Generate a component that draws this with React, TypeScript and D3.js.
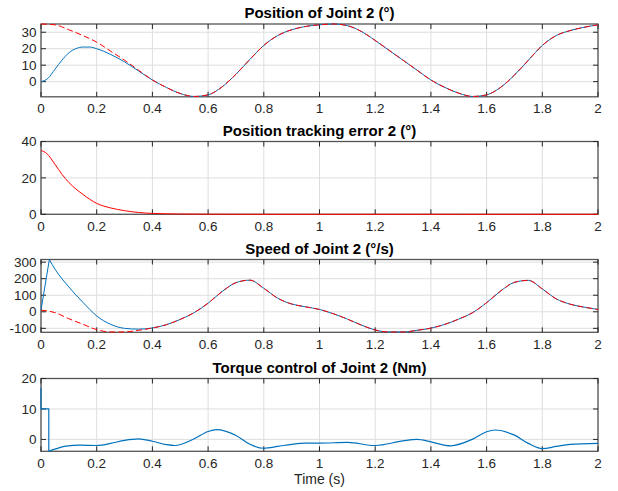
import React from "react";
import * as d3 from "d3";

// ---------- DATA ----------
const timeGrid = [0, 0.05, 0.1, 0.15, 0.2, 0.25, 0.3, 0.35, 0.4, 0.45, 0.5, 0.55, 0.6, 0.65, 0.7, 0.75, 0.8, 0.85, 0.9, 0.95, 1.0,
  1.05, 1.1, 1.15, 1.2, 1.25, 1.3, 1.35, 1.4, 1.45, 1.5, 1.55, 1.6, 1.65, 1.7, 1.75, 1.8, 1.85, 1.9, 1.95, 2.0];

const refPosition = [35, 34.5, 31.5, 28, 24, 18.5, 13, 7, 1, -3.5, -7.2, -9, -8, -3.2, 4.5, 13.5, 22, 28, 31.5, 33.5, 34.5,
  35, 34, 30.5, 25, 19, 13, 7, 1, -3.5, -7, -9, -8, -3.5, 4, 13, 22, 28, 31, 33, 34.5];

const actPosStartTimes = [0, 0.025, 0.05, 0.075, 0.1, 0.125, 0.15, 0.175, 0.2, 0.25, 0.3, 0.35, 0.4, 0.45];
const actPosStartValues = [0, 2, 7.5, 13, 17.5, 20, 21, 21, 20, 16.5, 12, 6.5, 1, -3.5];

const errorTimes = [0, 0.01, 0.02, 0.05, 0.075, 0.1, 0.15, 0.2, 0.25, 0.3, 0.35, 0.4, 0.5, 0.6, 0.8, 1.0, 1.5, 2.0];
const errorValues = [35, 34.5, 33.5, 27.5, 22, 17.5, 11, 6, 3.5, 2, 1, 0.5, 0.15, 0.05, 0, 0, 0, 0];

const refSpeed = [10, -5, -42, -75, -108, -122, -122, -112, -98, -78, -46, -5, 52, 122, 176, 191, 142, 82, 47, 30, 14,
  -12, -44, -80, -110, -122, -122, -112, -99, -76, -44, -5, 55, 125, 178, 190, 138, 78, 46, 28, 14];

const actSpeedRiseTimes = [0, 0.03];
const actSpeedRiseValues = [10, 316];
const actSpeedStartTimes = [0.03, 0.05, 0.075, 0.1, 0.125, 0.15, 0.175, 0.2, 0.25, 0.3, 0.35, 0.4];
const actSpeedStartValues = [316, 258, 200, 150, 102, 58, 14, -25, -76, -100, -105, -98];

const torqueStepTimes = [0, 0, 0.028, 0.028];
const torqueStepValues = [17, 10, 10, -3.9];
const torqueTimes = [0.028, 0.05, 0.09, 0.14, 0.2, 0.25, 0.3, 0.35, 0.4, 0.45, 0.48, 0.55, 0.6, 0.63, 0.7, 0.75, 0.8, 0.85, 0.9, 0.95,
  1.0, 1.1, 1.2, 1.3, 1.35, 1.4, 1.47, 1.55, 1.6, 1.63, 1.7, 1.75, 1.8, 1.85, 1.9, 2.0];
const torqueValues = [-3.9, -3.2, -2.2, -1.9, -2.0, -1.3, -0.3, 0.2, -0.6, -1.7, -2.0, 0.2, 2.6, 3.2, 1.3, -1.6, -2.9, -2.3, -1.6, -1.2,
  -1.2, -1.0, -2.0, -0.5, 0.0, -0.8, -2.1, 0.1, 2.5, 3.1, 1.4, -1.3, -3.0, -2.3, -1.6, -1.3];

const xTicks = [0, 0.2, 0.4, 0.6, 0.8, 1, 1.2, 1.4, 1.6, 1.8, 2];
const titles = ["Position of Joint 2 (°)", "Position tracking error 2 (°)", "Speed of Joint 2 (°/s)", "Torque control of Joint 2 (Nm)"];
const yDomains: [number, number][] = [[-9.2, 35], [0, 40], [-124, 316], [-3.9, 20]];
const yTicks = [[0, 10, 20, 30], [0, 20, 40], [-100, 0, 100, 200, 300], [0, 10, 20]];
const xLabel = "Time (s)";

// ---------- LAYOUT ----------
const W = 618, H = 491;
const X0 = 41, X1 = 598;
const panelTops = [24, 141.5, 259.5, 378.5];
const panelH = 72.8;
const BLUE = "#0072BD";
const RED = "#FF0000";
const FONT = "'Liberation Sans', Arial, Helvetica, sans-serif";
const zip = (t: number[], v: number[]) => t.map((x, i) => [x, v[i]] as [number, number]);

export default function App() {
  const x = d3.scaleLinear().domain([0, 2]).range([X0, X1]);
  const panels = panelTops.map((top, i) => {
    const y = d3.scaleLinear().domain(yDomains[i]).range([top + panelH, top]);
    return { top, bottom: top + panelH, y };
  });
  const mk = (y: d3.ScaleLinear<number, number>, curve: any) =>
    d3.line<[number, number]>().x(d => x(d[0])).y(d => y(d[1])).curve(curve);

  const actPos = zip(actPosStartTimes, actPosStartValues).concat(
    zip(timeGrid, refPosition).filter(d => d[0] >= 0.5));
  const actSpeed = zip(actSpeedStartTimes, actSpeedStartValues).concat(
    zip(timeGrid, refSpeed).filter(d => d[0] >= 0.45));

  const series: { d: string; color: string; dash?: string; w?: number }[][] = [
    [
      { d: mk(panels[0].y, d3.curveMonotoneX)(actPos)!, color: BLUE },
      { d: mk(panels[0].y, d3.curveMonotoneX)(zip(timeGrid, refPosition))!, color: RED, dash: "6,3" },
    ],
    [{ d: mk(panels[1].y, d3.curveMonotoneX)(zip(errorTimes, errorValues))!, color: RED }],
    [
      { d: mk(panels[2].y, d3.curveLinear)(zip(actSpeedRiseTimes, actSpeedRiseValues))!, color: BLUE },
      { d: mk(panels[2].y, d3.curveMonotoneX)(actSpeed)!, color: BLUE },
      { d: mk(panels[2].y, d3.curveMonotoneX)(zip(timeGrid, refSpeed))!, color: RED, dash: "6,3" },
    ],
    [
      { d: mk(panels[3].y, d3.curveLinear)(zip(torqueStepTimes, torqueStepValues))!, color: BLUE, w: 1.2 },
      { d: mk(panels[3].y, d3.curveMonotoneX)(zip(torqueTimes, torqueValues))!, color: BLUE, w: 1.2 },
    ],
  ];

  return (
    <svg width={W} height={H} style={{ position: "absolute", left: 0, top: 0, background: "#fff" }} fontFamily={FONT}>
      <rect x={0} y={0} width={W} height={H} fill="#fff" />
      {panels.map((p, i) => (
        <g key={i}>
          <clipPath id={`clip${i}`}>
            <rect x={X0 - 2} y={p.top - 2} width={X1 - X0 + 4} height={panelH + 4} />
          </clipPath>
          {/* grid */}
          {xTicks.map(t => (
            <line key={"gx" + t} x1={x(t)} x2={x(t)} y1={p.top} y2={p.bottom} stroke="#dedede" strokeWidth={1} />
          ))}
          {yTicks[i].map(t => (
            <line key={"gy" + t} x1={X0} x2={X1} y1={p.y(t)} y2={p.y(t)} stroke="#dedede" strokeWidth={1} />
          ))}
          {/* box */}
          <rect x={X0} y={p.top} width={X1 - X0} height={panelH} fill="none" stroke="#555" strokeWidth={1.3} />
          {/* ticks */}
          {xTicks.map(t => (
            <g key={"tx" + t}>
              <line x1={x(t)} x2={x(t)} y1={p.bottom} y2={p.bottom - 5} stroke="#262626" />
              <line x1={x(t)} x2={x(t)} y1={p.top} y2={p.top + 5} stroke="#262626" />
              <text x={x(t)} y={p.bottom + 16.5} textAnchor="middle" fontSize={13.5} fill="#262626">{d3.format("")(t)}</text>
            </g>
          ))}
          {yTicks[i].map(t => (
            <g key={"ty" + t}>
              <line x1={X0} x2={X0 + 5} y1={p.y(t)} y2={p.y(t)} stroke="#262626" />
              <line x1={X1} x2={X1 - 5} y1={p.y(t)} y2={p.y(t)} stroke="#262626" />
              <text x={36.5} y={p.y(t) + 4.7} textAnchor="end" fontSize={13.5} fill="#262626">{t}</text>
            </g>
          ))}
          {/* data on top */}
          <g clipPath={`url(#clip${i})`}>
            {series[i].map((s, k) => (
              <path key={k} d={s.d} fill="none" stroke={s.color} strokeWidth={s.w ?? 1}
                strokeDasharray={s.dash} strokeLinejoin="round" />
            ))}
          </g>
          <text x={(X0 + X1) / 2} y={p.top - 6} textAnchor="middle" fontSize={15} fontWeight="bold" fill="#000">{titles[i]}</text>
        </g>
      ))}
      <text x={(X0 + X1) / 2} y={484} textAnchor="middle" fontSize={14} fill="#262626">{xLabel}</text>
    </svg>
  );
}
